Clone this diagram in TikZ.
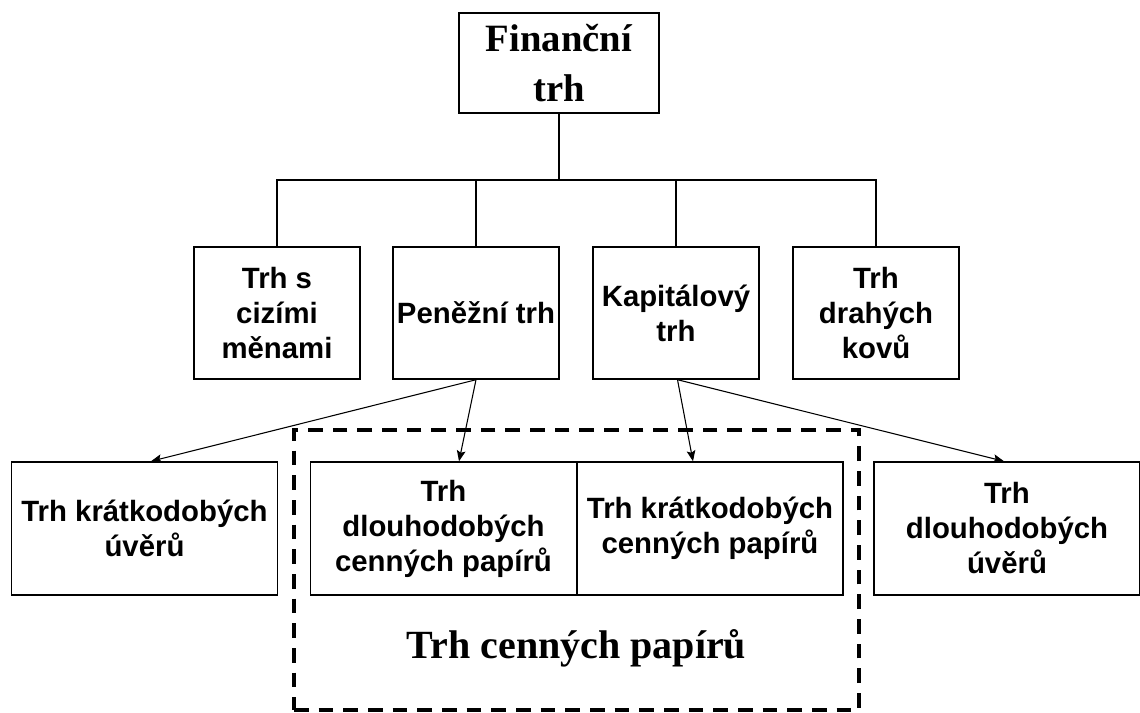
\documentclass[tikz,border=0pt]{standalone}
\usepackage{fontspec}
\setmainfont{Liberation Serif}
\setsansfont{Liberation Sans}
\usetikzlibrary{arrows.meta,calc,positioning}

\begin{document}
\begin{tikzpicture}[x=0.75pt,y=-0.75pt,
  box/.style={draw,line width=1.1pt,align=center,inner sep=0pt,
    font=\sffamily\bfseries\fontsize{22}{26.25}\selectfont},
  topbox/.style={box,minimum width=150pt,minimum height=75pt,
    font=\rmfamily\bfseries\fontsize{29}{37.5}\selectfont},
  midbox/.style={box,minimum width=124.5pt,minimum height=99pt},
  lowbox/.style={box,minimum width=199.5pt,minimum height=99.75pt},
  group/.style={draw,line width=2.8pt,dash pattern=on 11pt off 7.5pt,
    minimum width=423.75pt,minimum height=210pt,inner sep=0pt},
  tree/.style={line width=1.1pt},
  arr/.style={line width=0.8pt,-{Stealth[length=8pt,width=6.5pt,inset=1.5pt]}}]
\useasboundingbox (0,0) rectangle (1140,713);
\node[group] (cp) at (576.5,570) {};
\node[topbox] (fin) at (559,63) {Finanční\\trh};
\node[midbox] (ciz) at (277,313) {Trh s\\cizími\\měnami};
\node[midbox] (pen) at (476,313) {Peněžní trh};
\node[midbox] (kap) at (676,313) {Kapitálový\\trh};
\node[midbox] (dra) at (876,313) {Trh\\drahých\\kovů};
\node[lowbox] (kru) at (144.5,528.5) {Trh krátkodobých\\úvěrů};
\node[lowbox] (dcp) at (443.5,528.5) {Trh\\dlouhodobých\\cenných papírů};
\node[lowbox] (kcp) at (710,528.5) {Trh krátkodobých\\cenných papírů};
\node[lowbox] (du) at (1007,528.5) {Trh\\dlouhodobých\\úvěrů};
\node[anchor=base,font=\rmfamily\bfseries\fontsize{30}{34}\selectfont] (tcp) at (576.5,658) {Trh cenných papírů};
% strom
\coordinate (bus) at (559,180);
\draw[tree] (fin) -- (bus);
\foreach \n in {ciz,pen,kap,dra}
  \draw[tree] (bus) -| (\n);
% sipky
\draw[arr] (pen.south) -- ($(kru.north)+(6.5,0)$);
\draw[arr] (pen.south) -- ($(dcp.north)+(15.5,0)$);
\draw[arr] ($(kap.south)+(1.5,0)$) -- ($(kcp.north)+(-17,0)$);
\draw[arr] ($(kap.south)+(1.5,0)$) -- ($(du.north)+(-3,0)$);
\end{tikzpicture}
\end{document}
